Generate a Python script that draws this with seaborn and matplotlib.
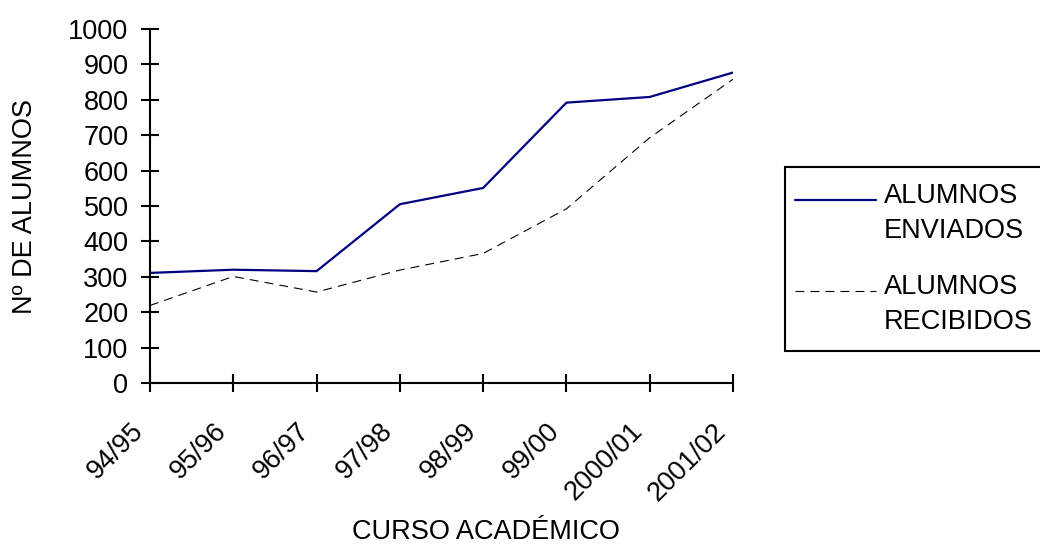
import matplotlib
matplotlib.use("Agg")
import matplotlib.pyplot as plt
import matplotlib.transforms as mtransforms
from matplotlib.legend_handler import HandlerLine2D
import seaborn as sns
import pandas as pd
import numpy as np

cursos = ["94/95", "95/96", "96/97", "97/98", "98/99", "99/00", "2000/01", "2001/02"]
enviados = [311, 320, 316, 505, 551, 792, 808, 877]
recibidos = [219, 301, 257, 319, 366, 492, 693, 858]
y_ticks = [0, 100, 200, 300, 400, 500, 600, 700, 800, 900, 1000]

sns.set_theme(style="white")
plt.rcParams['font.family'] = ['Liberation Sans', 'DejaVu Sans']
plt.rcParams['text.color'] = 'black'
FS = 19.5

fig = plt.figure(figsize=(10.4, 5.44), dpi=100)
ax = fig.add_axes([150/1040, 1-383/544, (733-150)/1040, (383-29)/544])

df = pd.DataFrame({"curso": cursos, "enviados": enviados, "recibidos": recibidos})
sns.lineplot(data=df, x="curso", y="enviados", ax=ax, color="#000080", linewidth=1.6,
             label="ALUMNOS\nENVIADOS", sort=False)
sns.lineplot(data=df, x="curso", y="recibidos", ax=ax, color="black", linewidth=0.8,
             linestyle=(0, (8, 5.5)), label="ALUMNOS\nRECIBIDOS", sort=False)

ax.set_xlim(0, len(cursos) - 1)
ax.set_ylim(0, 1000)
ax.set_yticks(y_ticks)
ax.set_xticks(range(len(cursos)))
ax.set_xticklabels(cursos, rotation=45, ha="right", va="top", rotation_mode="anchor")

for s in ["top", "right"]:
    ax.spines[s].set_visible(False)
for s in ["left", "bottom"]:
    ax.spines[s].set_color("black")
    ax.spines[s].set_linewidth(1.5)
ax.tick_params(axis="both", direction="inout", length=13, width=1.5, color="black",
               labelsize=FS, labelcolor="black", left=True, bottom=True)
ax.tick_params(axis="y", pad=9)
ax.tick_params(axis="x", pad=8)
offset = mtransforms.ScaledTranslation(-20 / 100, -15 / 100, fig.dpi_scale_trans)
for lab in ax.get_xticklabels():
    lab.set_transform(lab.get_transform() + offset)

ax.set_xlabel("CURSO ACADÉMICO", fontsize=FS, color="black")
ax.xaxis.set_label_coords((486 - 150) / 583, (383 - 519) / 354)
ax.set_ylabel("Nº DE ALUMNOS", fontsize=FS, color="black")
ax.yaxis.set_label_coords((38 - 150) / 583, 0.5)
ax.grid(False)


class TopHandler(HandlerLine2D):
    def __init__(self, dx, dy, **kw):
        super().__init__(**kw)
        self.dx = dx
        self.dy = dy

    def create_artists(self, legend, orig_handle, xdescent, ydescent, width, height,
                       fontsize, trans):
        arts = super().create_artists(legend, orig_handle, xdescent, ydescent, width,
                                      height, fontsize, trans)
        for a in arts:
            a.set_xdata(np.asarray(a.get_xdata()) + self.dx)
            a.set_ydata(np.asarray(a.get_ydata()) + self.dy)
        return arts


ax.get_legend().remove()
h, l = ax.get_legend_handles_labels()
leg = fig.legend(h, l, loc="upper left", bbox_to_anchor=(785/1040, 1-167/544),
                 borderaxespad=0, fontsize=FS, frameon=True, fancybox=False,
                 edgecolor="black", handlelength=3.0, handletextpad=0.05,
                 labelspacing=1.1, borderpad=0.6, framealpha=1, labelcolor="black",
                 handler_map={h[0]: TopHandler(-4.8, 0.52 * FS),
                              h[1]: TopHandler(-4.8, 0.52 * FS)})
leg.get_frame().set_linewidth(1.5)
for t in leg.get_texts():
    t.set_linespacing(1.45)

fig.savefig("out.png", dpi=100)
